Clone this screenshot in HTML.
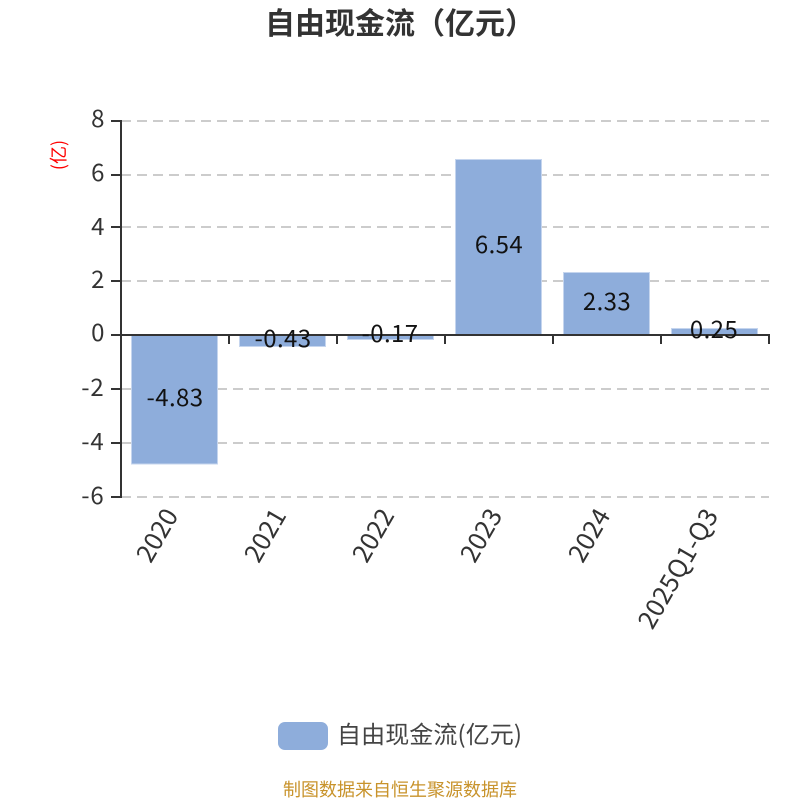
<!DOCTYPE html>
<html>
<head>
<meta charset="utf-8">
<style>
html,body{margin:0;padding:0;background:#fff;width:800px;height:800px;overflow:hidden}
svg{display:block}
text{font-family:"Noto Sans CJK SC","WenQuanYi Zen Hei","Liberation Sans",sans-serif}
</style>
</head>
<body>
<svg width="800" height="800" viewBox="0 0 800 800" xmlns="http://www.w3.org/2000/svg">
<rect width="800" height="800" fill="#fff"/>
<text x="400" y="34" font-size="30" font-weight="700" fill="#333" text-anchor="middle">自由现金流（亿元）</text>
<g stroke="#ccc" stroke-width="2" stroke-dasharray="10 6" fill="none">
<path d="M121 121H769"/><path d="M121 175H769"/><path d="M121 227H769"/><path d="M121 281H769"/>
<path d="M121 389H769"/><path d="M121 443H769"/><path d="M121 497H769"/>
</g>
<g fill="#8eaddb" stroke="#c5d5ee" stroke-width="1">
<rect x="131.500" y="335" width="86" height="129"/>
<rect x="239.500" y="335" width="86" height="11.500"/>
<rect x="347.500" y="335" width="86" height="4.500"/>
<rect x="455.500" y="159.500" width="86" height="175.500"/>
<rect x="563.500" y="272.500" width="86" height="62.500"/>
<rect x="671.500" y="328.500" width="86" height="6.500"/>
</g>
<g stroke="#333" stroke-width="2" fill="none">
<path d="M121 120V498"/>
<path d="M111 121H121M111 175H121M111 227H121M111 281H121M111 335H121M111 389H121M111 443H121M111 497H121"/>
<path d="M120 335H770"/>
<path d="M229 335V344M337 335V344M445 335V344M553 335V344M661 335V344M769 335V344"/>
</g>
<g font-size="24" fill="#333" text-anchor="end">
<text x="104.500" y="127">8</text>
<text x="104.500" y="181">6</text>
<text x="104.500" y="235">4</text>
<text x="104.500" y="288">2</text>
<text x="104.500" y="341">0</text>
<text x="104.500" y="396" letter-spacing=".8">-2</text>
<text x="104.500" y="450" letter-spacing=".8">-4</text>
<text x="104.500" y="504" letter-spacing=".8">-6</text>
</g>
<text transform="translate(58 155) rotate(-90)" font-size="18" fill="#f00" text-anchor="middle" dominant-baseline="central">(亿)</text>
<g font-size="24" fill="#111" text-anchor="middle" letter-spacing=".4">
<text x="175" y="406">-4.83</text>
<text x="283" y="347">-0.43</text>
<text x="390" y="342">-0.17</text>
<text x="499" y="253">6.54</text>
<text x="607" y="310">2.33</text>
<text x="714" y="338">0.25</text>
</g>
<g font-size="25.500" fill="#333" text-anchor="end">
<text transform="translate(170 510) rotate(-60)" dominant-baseline="central">2020</text>
<text transform="translate(278 510) rotate(-60)" dominant-baseline="central">2021</text>
<text transform="translate(386 510) rotate(-60)" dominant-baseline="central">2022</text>
<text transform="translate(494 510) rotate(-60)" dominant-baseline="central">2023</text>
<text transform="translate(602 510) rotate(-60)" dominant-baseline="central">2024</text>
<text transform="translate(710 510) rotate(-60)" dominant-baseline="central" letter-spacing=".2">2025Q1-Q3</text>
</g>
<rect x="278" y="722" width="50" height="28" rx="7" ry="7" fill="#8eaddb"/>
<text x="337" y="743" font-size="24" fill="#444" letter-spacing=".1">自由现金流(亿元)</text>
<text x="400" y="796" font-size="18" fill="#c8932b" text-anchor="middle">制图数据来自恒生聚源数据库</text>
</svg>
</body>
</html>
